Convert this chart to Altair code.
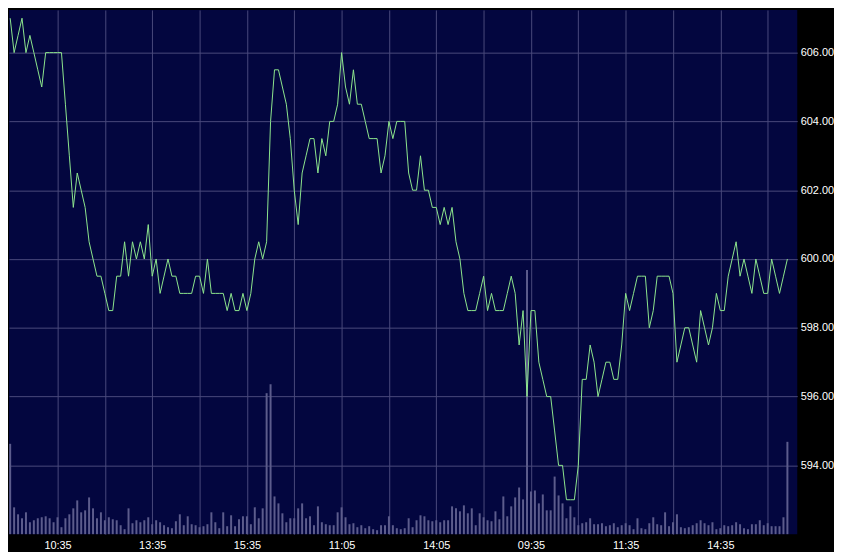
import altair as alt
import pandas as pd

# x-axis: 5-minute bar index over three trading sessions
tick_idx = [12, 36, 60, 84, 108, 132, 156, 180]
tick_labels = ["10:35", "13:35", "15:35", "11:05", "14:05", "09:35", "11:35", "14:35"]
grid_idx = [12, 24, 36, 48, 60, 72, 84, 96, 108, 120, 132, 144, 156, 168, 180, 192]
price_ticks = [594, 596, 598, 600, 602, 604, 606]

price = [
    607, 606, 606.5, 607, 606, 606.5, 606, 605.5, 605, 606,
    606, 606, 606, 606, 604.5, 603, 601.5, 602.5, 602, 601.5,
    600.5, 600, 599.5, 599.5, 599, 598.5, 598.5, 599.5, 599.5, 600.5,
    599.5, 600.5, 600, 600.5, 600, 601, 599.5, 600, 599, 599.5,
    600, 599.5, 599.5, 599, 599, 599, 599, 599.5, 599.5, 599,
    600, 599, 599, 599, 599, 598.5, 599, 598.5, 598.5, 599,
    598.5, 599, 600, 600.5, 600, 600.5, 604, 605.5, 605.5, 605,
    604.5, 603.5, 602, 601, 602.5, 603, 603.5, 603.5, 602.5, 603.5,
    603, 604, 604, 604.5, 606, 605, 604.5, 605.5, 604.5, 604.5,
    604, 603.5, 603.5, 603.5, 602.5, 603, 604, 603.5, 604, 604,
    604, 602.5, 602, 602, 603, 602, 602, 601.5, 601.5, 601,
    601.5, 601, 601.5, 600.5, 600, 599, 598.5, 598.5, 598.5, 599,
    599.5, 598.5, 599, 598.5, 598.5, 598.5, 599, 599.5, 599, 597.5,
    598.5, 596, 598.5, 598.5, 597, 596.5, 596, 596, 595, 594,
    594, 593, 593, 593, 594, 596.5, 596.5, 597.5, 597, 596,
    596.5, 597, 597, 596.5, 596.5, 597.5, 599, 598.5, 599, 599.5,
    599.5, 599.5, 598, 598.5, 599.5, 599.5, 599.5, 599.5, 599, 597,
    597.5, 598, 598, 597.5, 597, 598.5, 598, 597.5, 598, 599,
    598.5, 598.5, 599.5, 600, 600.5, 599.5, 600, 599.5, 599, 600,
    599.5, 599, 599, 600, 599.5, 599, 599.5, 600,
]

volume = [
    91, 27, 20, 16, 22, 12, 14, 16, 17, 18,
    16, 12, 17, 7, 16, 20, 26, 34, 22, 24,
    37, 26, 16, 22, 14, 17, 15, 14, 9, 5,
    26, 11, 14, 12, 14, 17, 10, 14, 12, 9,
    7, 6, 13, 20, 9, 18, 10, 9, 7, 8,
    10, 22, 12, 6, 22, 8, 19, 8, 15, 18,
    18, 10, 27, 16, 26, 142, 151, 38, 31, 21,
    12, 16, 16, 26, 31, 16, 18, 9, 28, 12,
    10, 9, 9, 22, 27, 17, 10, 11, 7, 9,
    6, 8, 5, 4, 9, 9, 18, 9, 6, 5,
    6, 16, 7, 14, 19, 18, 14, 13, 14, 12,
    14, 14, 28, 26, 23, 29, 21, 26, 9, 21,
    17, 14, 13, 23, 15, 38, 18, 28, 37, 47,
    35, 266, 43, 44, 31, 40, 24, 24, 58, 39,
    31, 16, 28, 17, 9, 11, 12, 16, 10, 10,
    11, 8, 9, 11, 7, 9, 11, 9, 5, 16,
    6, 5, 11, 17, 10, 9, 22, 8, 12, 20,
    7, 6, 7, 9, 11, 14, 11, 9, 12, 5,
    6, 9, 8, 9, 12, 10, 6, 5, 10, 10,
    14, 9, 11, 8, 8, 8, 17, 93,
]

n = min(len(price), len(volume))
df = pd.DataFrame({"bar": list(range(n)), "price": price[:n], "volume": volume[:n]})

label_expr = ""
for v, t in zip(tick_idx, tick_labels):
    label_expr += f"datum.value == {v} ? '{t}' : "
label_expr += "''"

GRID = "#4A4A7C"
FONT = "Liberation Sans"

x_enc = alt.X(
    "bar:Q",
    scale=alt.Scale(domain=[-0.3, 199.5], nice=False, zero=False, padding=0),
    axis=alt.Axis(
        values=grid_idx, labelExpr=label_expr, grid=True, gridColor=GRID,
        gridWidth=1, ticks=False, domain=False, labelColor="white",
        labelFont=FONT, labelFontSize=11, labelPadding=5, labelOverlap=False,
        labelFlush=False, title=None,
    ),
    title=None,
)

vol = alt.Chart(df).mark_bar(size=2, color="#5C5C8C").encode(
    x=x_enc,
    y=alt.Y("volume:Q", scale=alt.Scale(domain=[0, 528], nice=False), axis=None),
)

line = alt.Chart(df).mark_line(color="#8DE68D", strokeWidth=1).encode(
    x=x_enc,
    y=alt.Y(
        "price:Q",
        scale=alt.Scale(domain=[592, 607.24], nice=False, zero=False),
        axis=alt.Axis(
            orient="right", values=price_ticks, format=".2f", grid=True,
            gridColor=GRID, gridWidth=1, ticks=False, domain=False,
            labelColor="white", labelFont=FONT, labelFontSize=11,
            labelPadding=3, labelOverlap=False, labelFlush=False, title=None,
        ),
        title=None,
    ),
)

chart = (
    alt.layer(vol, line)
    .resolve_scale(y="independent")
    .properties(width=794, height=528, background="#000000", padding=0)
    .configure_view(fill="#03063F", stroke=None)
)

chart.save("out.html", embed_options={"renderer": "svg", "actions": False})
